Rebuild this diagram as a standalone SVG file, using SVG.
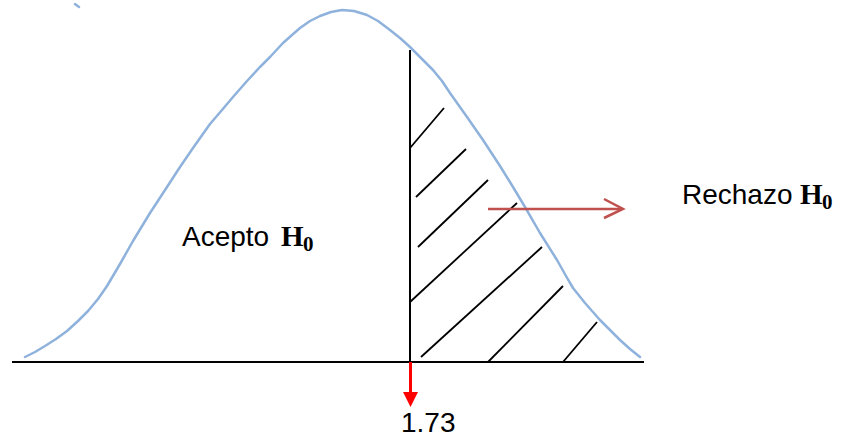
<svg xmlns="http://www.w3.org/2000/svg" width="845" height="439" viewBox="0 0 845 439">
<style>
.curve{fill:none;stroke:#8fb2dc;stroke-width:2.5;stroke-linejoin:round;stroke-linecap:round}
.blk{stroke:#000;stroke-width:2;fill:none}
.hatch{stroke:#000;stroke-width:1.8;fill:none}
.lbl{font-family:"Liberation Sans",Arial,sans-serif;font-size:28px;fill:#000}
.hb{font-family:"Liberation Serif","Times New Roman",serif;font-weight:bold;font-size:29px;fill:#000}
.hs{font-family:"Liberation Serif","Times New Roman",serif;font-weight:bold;font-size:21px;fill:#000}
</style>
<rect width="845" height="439" fill="#fff"/>
<g id="curve">
<polyline class="curve" points="25,357 35,352 45,346 56,339 67,331 78,321 88,311 98,299 107,286 120,264 133,241 150,213 167,187 180,167 193,148 210,124 222,110 233,97 247,81 260,67 270,57 283,43 292,35 300,28 310,21 320,16 331,12 342,10 354,11 367,15 378,21 390,30 400,38 410,47 420,57 433,70 442,81 450,93 467,117 483,140 500,166 513,187 525,207 540,233 557,260 566,276 573,288 585,303 600,320 610,330 620,340 630,349 640,357"/>
<line class="curve" x1="75" y1="4" x2="79" y2="7"/>
</g>
<g id="axes">
<line class="blk" x1="12" y1="362" x2="644" y2="362"/>
<line class="blk" x1="410" y1="50" x2="410" y2="362"/>
</g>
<g id="hatching">
<line class="hatch" x1="410" y1="148" x2="444" y2="108"/>
<line class="hatch" x1="416" y1="197" x2="466" y2="149"/>
<line class="hatch" x1="418" y1="247" x2="488" y2="180"/>
<line class="hatch" x1="410" y1="302" x2="517" y2="203"/>
<line class="hatch" x1="421" y1="357" x2="542" y2="247"/>
<line class="hatch" x1="488" y1="362" x2="563" y2="286"/>
<line class="hatch" x1="563" y1="362" x2="597" y2="322"/>
</g>
<g id="connectors">
<line x1="488" y1="209" x2="622" y2="209" stroke="#c0504d" stroke-width="2.5"/>
<polyline points="604,199 623,209 604,218" fill="none" stroke="#c0504d" stroke-width="2.5" stroke-linejoin="miter"/>
<line x1="410.5" y1="362" x2="410.5" y2="394" stroke="#ff0000" stroke-width="3"/>
<polygon points="403,392 418,392 410.5,407" fill="#ff0000"/>
</g>
<g id="label-acepto">
<text class="lbl" x="182" y="246">Acepto</text>
<text class="hb" x="281" y="246">H</text>
<text class="hs" x="303" y="251">0</text>
</g>
<g id="label-rechazo">
<text class="lbl" x="682" y="204">Rechazo</text>
<text class="hb" x="800" y="204">H</text>
<text class="hs" x="822" y="209">0</text>
</g>
<g id="label-value">
<text class="lbl" x="401" y="432">1.73</text>
</g>
</svg>
